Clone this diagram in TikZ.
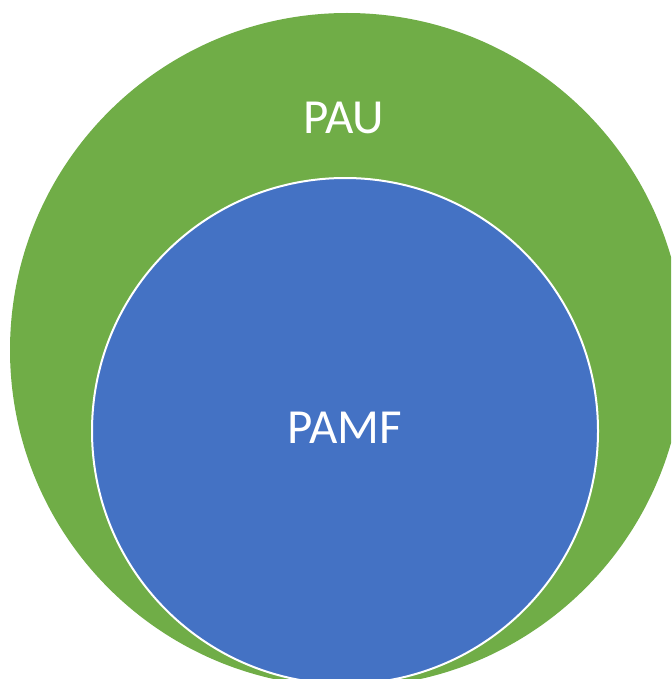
\documentclass[tikz,border=0pt]{standalone}
\usepackage{fontspec}
\setmainfont{Carlito}
\definecolor{paugreen}{RGB}{112,173,71}
\definecolor{pamfblue}{RGB}{68,114,196}
\tikzset{setlabel/.style={text=white,inner sep=0pt,font=\fontsize{49}{54}\selectfont}}

\begin{document}
\begin{tikzpicture}[x=1pt,y=-1pt]
\useasboundingbox (0,0) rectangle (671,679);
\clip (0,0) rectangle (671,679);
\fill[paugreen](347,350) circle (337pt);
\draw[fill=pamfblue,draw=white,line width=2pt](345,431) circle (253pt);
\node[setlabel](pau) at (344,118){PAU};
\node[setlabel](pamf) at (345,428){PAMF};
\end{tikzpicture}
\end{document}
